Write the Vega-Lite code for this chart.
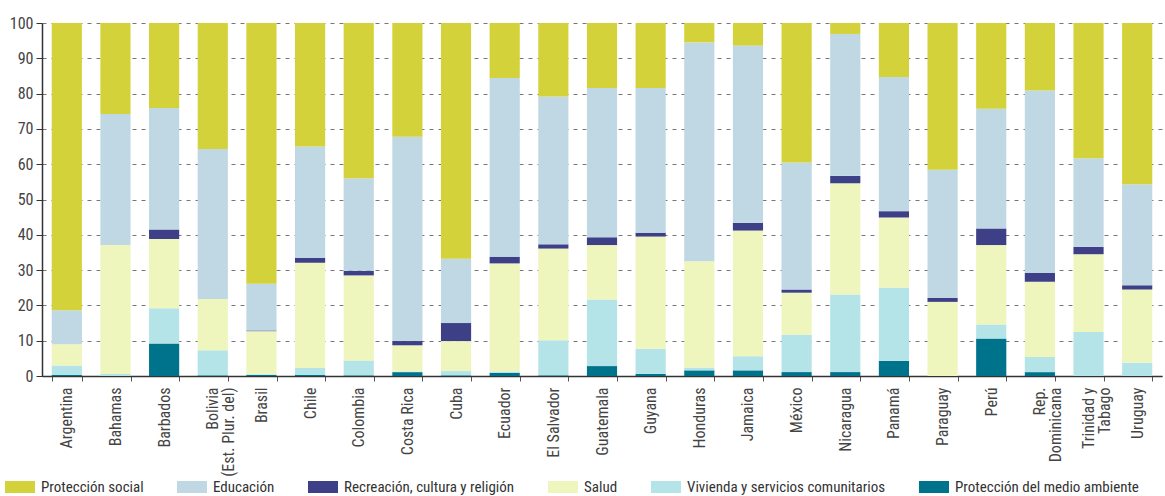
{
  "$schema": "https://vega.github.io/schema/vega-lite/v6.json",
  "width": 1120,
  "height": 353,
  "autosize": {"type": "none"},
  "padding": {"left": 42, "top": 23, "right": 3, "bottom": 120},
  "background": "white",
  "config": {
    "view": {"stroke": null},
    "font": "'Roboto Condensed', 'DejaVu Sans Condensed', 'Liberation Sans Narrow', Roboto, sans-serif",
    "axis": {"labelFont": "'Roboto Condensed', 'DejaVu Sans Condensed', 'Liberation Sans Narrow', Roboto, sans-serif", "labelColor": "#444", "labelFontSize": 16}
  },
  "data": {
    "values": [
      {"pais": "Argentina", "categoria": "Protección del medio ambiente", "valor": 0.3},
      {"pais": "Argentina", "categoria": "Vivienda y servicios comunitarios", "valor": 2.7},
      {"pais": "Argentina", "categoria": "Salud", "valor": 6.0},
      {"pais": "Argentina", "categoria": "Recreación, cultura y religión", "valor": 0},
      {"pais": "Argentina", "categoria": "Educación", "valor": 9.6},
      {"pais": "Argentina", "categoria": "Protección social", "valor": 81.4},
      {"pais": "Bahamas", "categoria": "Protección del medio ambiente", "valor": 0},
      {"pais": "Bahamas", "categoria": "Vivienda y servicios comunitarios", "valor": 0.6},
      {"pais": "Bahamas", "categoria": "Salud", "valor": 36.5},
      {"pais": "Bahamas", "categoria": "Recreación, cultura y religión", "valor": 0},
      {"pais": "Bahamas", "categoria": "Educación", "valor": 37.1},
      {"pais": "Bahamas", "categoria": "Protección social", "valor": 25.8},
      {"pais": "Barbados", "categoria": "Protección del medio ambiente", "valor": 9.2},
      {"pais": "Barbados", "categoria": "Vivienda y servicios comunitarios", "valor": 10.0},
      {"pais": "Barbados", "categoria": "Salud", "valor": 19.6},
      {"pais": "Barbados", "categoria": "Recreación, cultura y religión", "valor": 2.7},
      {"pais": "Barbados", "categoria": "Educación", "valor": 34.4},
      {"pais": "Barbados", "categoria": "Protección social", "valor": 24.1},
      {"pais": "Bolivia (Est. Plur. del)", "categoria": "Protección del medio ambiente", "valor": 0.2},
      {"pais": "Bolivia (Est. Plur. del)", "categoria": "Vivienda y servicios comunitarios", "valor": 7.1},
      {"pais": "Bolivia (Est. Plur. del)", "categoria": "Salud", "valor": 14.5},
      {"pais": "Bolivia (Est. Plur. del)", "categoria": "Recreación, cultura y religión", "valor": 0},
      {"pais": "Bolivia (Est. Plur. del)", "categoria": "Educación", "valor": 42.5},
      {"pais": "Bolivia (Est. Plur. del)", "categoria": "Protección social", "valor": 35.7},
      {"pais": "Brasil", "categoria": "Protección del medio ambiente", "valor": 0.3},
      {"pais": "Brasil", "categoria": "Vivienda y servicios comunitarios", "valor": 0.2},
      {"pais": "Brasil", "categoria": "Salud", "valor": 12.2},
      {"pais": "Brasil", "categoria": "Recreación, cultura y religión", "valor": 0.2},
      {"pais": "Brasil", "categoria": "Educación", "valor": 13.2},
      {"pais": "Brasil", "categoria": "Protección social", "valor": 73.9},
      {"pais": "Chile", "categoria": "Protección del medio ambiente", "valor": 0.3},
      {"pais": "Chile", "categoria": "Vivienda y servicios comunitarios", "valor": 2.0},
      {"pais": "Chile", "categoria": "Salud", "valor": 29.8},
      {"pais": "Chile", "categoria": "Recreación, cultura y religión", "valor": 1.4},
      {"pais": "Chile", "categoria": "Educación", "valor": 31.5},
      {"pais": "Chile", "categoria": "Protección social", "valor": 35.0},
      {"pais": "Colombia", "categoria": "Protección del medio ambiente", "valor": 0.2},
      {"pais": "Colombia", "categoria": "Vivienda y servicios comunitarios", "valor": 4.2},
      {"pais": "Colombia", "categoria": "Salud", "valor": 24.1},
      {"pais": "Colombia", "categoria": "Recreación, cultura y religión", "valor": 1.3},
      {"pais": "Colombia", "categoria": "Educación", "valor": 26.2},
      {"pais": "Colombia", "categoria": "Protección social", "valor": 44.0},
      {"pais": "Costa Rica", "categoria": "Protección del medio ambiente", "valor": 1.1},
      {"pais": "Costa Rica", "categoria": "Vivienda y servicios comunitarios", "valor": 0.2},
      {"pais": "Costa Rica", "categoria": "Salud", "valor": 7.4},
      {"pais": "Costa Rica", "categoria": "Recreación, cultura y religión", "valor": 1.2},
      {"pais": "Costa Rica", "categoria": "Educación", "valor": 57.9},
      {"pais": "Costa Rica", "categoria": "Protección social", "valor": 32.2},
      {"pais": "Cuba", "categoria": "Protección del medio ambiente", "valor": 0.2},
      {"pais": "Cuba", "categoria": "Vivienda y servicios comunitarios", "valor": 1.2},
      {"pais": "Cuba", "categoria": "Salud", "valor": 8.5},
      {"pais": "Cuba", "categoria": "Recreación, cultura y religión", "valor": 5.1},
      {"pais": "Cuba", "categoria": "Educación", "valor": 18.2},
      {"pais": "Cuba", "categoria": "Protección social", "valor": 66.8},
      {"pais": "Ecuador", "categoria": "Protección del medio ambiente", "valor": 0.9},
      {"pais": "Ecuador", "categoria": "Vivienda y servicios comunitarios", "valor": 0.4},
      {"pais": "Ecuador", "categoria": "Salud", "valor": 30.6},
      {"pais": "Ecuador", "categoria": "Recreación, cultura y religión", "valor": 1.9},
      {"pais": "Ecuador", "categoria": "Educación", "valor": 50.6},
      {"pais": "Ecuador", "categoria": "Protección social", "valor": 15.6},
      {"pais": "El Salvador", "categoria": "Protección del medio ambiente", "valor": 0.2},
      {"pais": "El Salvador", "categoria": "Vivienda y servicios comunitarios", "valor": 9.9},
      {"pais": "El Salvador", "categoria": "Salud", "valor": 26.0},
      {"pais": "El Salvador", "categoria": "Recreación, cultura y religión", "valor": 1.2},
      {"pais": "El Salvador", "categoria": "Educación", "valor": 41.9},
      {"pais": "El Salvador", "categoria": "Protección social", "valor": 20.8},
      {"pais": "Guatemala", "categoria": "Protección del medio ambiente", "valor": 2.8},
      {"pais": "Guatemala", "categoria": "Vivienda y servicios comunitarios", "valor": 18.9},
      {"pais": "Guatemala", "categoria": "Salud", "valor": 15.4},
      {"pais": "Guatemala", "categoria": "Recreación, cultura y religión", "valor": 2.2},
      {"pais": "Guatemala", "categoria": "Educación", "valor": 42.3},
      {"pais": "Guatemala", "categoria": "Protección social", "valor": 18.4},
      {"pais": "Guyana", "categoria": "Protección del medio ambiente", "valor": 0.6},
      {"pais": "Guyana", "categoria": "Vivienda y servicios comunitarios", "valor": 7.1},
      {"pais": "Guyana", "categoria": "Salud", "valor": 31.8},
      {"pais": "Guyana", "categoria": "Recreación, cultura y religión", "valor": 1.1},
      {"pais": "Guyana", "categoria": "Educación", "valor": 41.0},
      {"pais": "Guyana", "categoria": "Protección social", "valor": 18.4},
      {"pais": "Honduras", "categoria": "Protección del medio ambiente", "valor": 1.6},
      {"pais": "Honduras", "categoria": "Vivienda y servicios comunitarios", "valor": 0.8},
      {"pais": "Honduras", "categoria": "Salud", "valor": 30.1},
      {"pais": "Honduras", "categoria": "Recreación, cultura y religión", "valor": 0},
      {"pais": "Honduras", "categoria": "Educación", "valor": 62.0},
      {"pais": "Honduras", "categoria": "Protección social", "valor": 5.5},
      {"pais": "Jamaica", "categoria": "Protección del medio ambiente", "valor": 1.6},
      {"pais": "Jamaica", "categoria": "Vivienda y servicios comunitarios", "valor": 4.0},
      {"pais": "Jamaica", "categoria": "Salud", "valor": 35.6},
      {"pais": "Jamaica", "categoria": "Recreación, cultura y religión", "valor": 2.2},
      {"pais": "Jamaica", "categoria": "Educación", "valor": 50.2},
      {"pais": "Jamaica", "categoria": "Protección social", "valor": 6.4},
      {"pais": "México", "categoria": "Protección del medio ambiente", "valor": 1.1},
      {"pais": "México", "categoria": "Vivienda y servicios comunitarios", "valor": 10.6},
      {"pais": "México", "categoria": "Salud", "valor": 11.9},
      {"pais": "México", "categoria": "Recreación, cultura y religión", "valor": 0.9},
      {"pais": "México", "categoria": "Educación", "valor": 36.0},
      {"pais": "México", "categoria": "Protección social", "valor": 39.5},
      {"pais": "Nicaragua", "categoria": "Protección del medio ambiente", "valor": 1.1},
      {"pais": "Nicaragua", "categoria": "Vivienda y servicios comunitarios", "valor": 22.0},
      {"pais": "Nicaragua", "categoria": "Salud", "valor": 31.5},
      {"pais": "Nicaragua", "categoria": "Recreación, cultura y religión", "valor": 2.1},
      {"pais": "Nicaragua", "categoria": "Educación", "valor": 40.2},
      {"pais": "Nicaragua", "categoria": "Protección social", "valor": 3.1},
      {"pais": "Panamá", "categoria": "Protección del medio ambiente", "valor": 4.3},
      {"pais": "Panamá", "categoria": "Vivienda y servicios comunitarios", "valor": 20.7},
      {"pais": "Panamá", "categoria": "Salud", "valor": 19.9},
      {"pais": "Panamá", "categoria": "Recreación, cultura y religión", "valor": 1.8},
      {"pais": "Panamá", "categoria": "Educación", "valor": 38.0},
      {"pais": "Panamá", "categoria": "Protección social", "valor": 15.3},
      {"pais": "Paraguay", "categoria": "Protección del medio ambiente", "valor": 0},
      {"pais": "Paraguay", "categoria": "Vivienda y servicios comunitarios", "valor": 0},
      {"pais": "Paraguay", "categoria": "Salud", "valor": 21.0},
      {"pais": "Paraguay", "categoria": "Recreación, cultura y religión", "valor": 1.1},
      {"pais": "Paraguay", "categoria": "Educación", "valor": 36.3},
      {"pais": "Paraguay", "categoria": "Protección social", "valor": 41.6},
      {"pais": "Perú", "categoria": "Protección del medio ambiente", "valor": 10.6},
      {"pais": "Perú", "categoria": "Vivienda y servicios comunitarios", "valor": 4.0},
      {"pais": "Perú", "categoria": "Salud", "valor": 22.5},
      {"pais": "Perú", "categoria": "Recreación, cultura y religión", "valor": 4.7},
      {"pais": "Perú", "categoria": "Educación", "valor": 33.9},
      {"pais": "Perú", "categoria": "Protección social", "valor": 24.3},
      {"pais": "Rep. Dominicana", "categoria": "Protección del medio ambiente", "valor": 1.1},
      {"pais": "Rep. Dominicana", "categoria": "Vivienda y servicios comunitarios", "valor": 4.3},
      {"pais": "Rep. Dominicana", "categoria": "Salud", "valor": 21.3},
      {"pais": "Rep. Dominicana", "categoria": "Recreación, cultura y religión", "valor": 2.5},
      {"pais": "Rep. Dominicana", "categoria": "Educación", "valor": 51.7},
      {"pais": "Rep. Dominicana", "categoria": "Protección social", "valor": 19.1},
      {"pais": "Trinidad y Tabago", "categoria": "Protección del medio ambiente", "valor": 0},
      {"pais": "Trinidad y Tabago", "categoria": "Vivienda y servicios comunitarios", "valor": 12.5},
      {"pais": "Trinidad y Tabago", "categoria": "Salud", "valor": 22.0},
      {"pais": "Trinidad y Tabago", "categoria": "Recreación, cultura y religión", "valor": 2.1},
      {"pais": "Trinidad y Tabago", "categoria": "Educación", "valor": 25.1},
      {"pais": "Trinidad y Tabago", "categoria": "Protección social", "valor": 38.3},
      {"pais": "Uruguay", "categoria": "Protección del medio ambiente", "valor": 0},
      {"pais": "Uruguay", "categoria": "Vivienda y servicios comunitarios", "valor": 3.8},
      {"pais": "Uruguay", "categoria": "Salud", "valor": 20.7},
      {"pais": "Uruguay", "categoria": "Recreación, cultura y religión", "valor": 1.2},
      {"pais": "Uruguay", "categoria": "Educación", "valor": 28.6},
      {"pais": "Uruguay", "categoria": "Protección social", "valor": 45.7}
    ]
  },
  "transform": [
    {"calculate": "indexof(['Protección del medio ambiente','Vivienda y servicios comunitarios','Salud','Recreación, cultura y religión','Educación','Protección social'], datum.categoria)", "as": "orden"}
  ],
  "mark": {"type": "bar"},
  "encoding": {
    "x": {
      "field": "pais",
      "type": "nominal",
      "sort": null,
      "scale": {"paddingInner": 0.38, "paddingOuter": 0.2},
      "axis": {
        "title": null,
        "labelAngle": -90,
        "labelAlign": "right",
        "labelBaseline": "middle",
        "labelPadding": 6,
        "labelLineHeight": 16,
        "labelFontSize": 16,
        "labelExpr": "datum.value == 'Bolivia (Est. Plur. del)' ? ['Bolivia', '(Est. Plur. del)'] : datum.value == 'Rep. Dominicana' ? ['Rep.', 'Dominicana'] : datum.value == 'Trinidad y Tabago' ? ['Trinidad y', 'Tabago'] : datum.value",
        "tickBand": "extent",
        "tickColor": "#555",
        "tickSize": 5,
        "domainColor": "#333",
        "domainWidth": 1.5,
        "labelColor": "#444"
      }
    },
    "y": {
      "field": "valor",
      "type": "quantitative",
      "stack": "zero",
      "scale": {"domain": [0, 100], "nice": false},
      "axis": {
        "title": null,
        "values": [0, 10, 20, 30, 40, 50, 60, 70, 80, 90, 100],
        "grid": true,
        "gridDash": [4, 5],
        "gridColor": "#777",
        "gridWidth": 1,
        "tickColor": "#333",
        "tickSize": 6,
        "domainColor": "#333",
        "domainWidth": 1.5,
        "labelPadding": 3,
        "labelFontSize": 16
      }
    },
    "order": {"field": "orden", "type": "quantitative"},
    "color": {
      "field": "categoria",
      "type": "nominal",
      "scale": {
        "domain": ["Protección social", "Educación", "Recreación, cultura y religión", "Salud", "Vivienda y servicios comunitarios", "Protección del medio ambiente"],
        "range": ["#d4d23a", "#bfd8e3", "#3d3f87", "#eef5bd", "#b5e4e8", "#00738c"]
      },
      "legend": {
        "title": null,
        "orient": "none",
        "direction": "horizontal",
        "legendX": -37,
        "legendY": 449,
        "symbolType": "M-1,-0.4H1V0.4H-1Z",
        "symbolSize": 900,
        "symbolStrokeWidth": 0,
        "symbolOpacity": 1,
        "labelFont": "'Roboto Condensed', 'DejaVu Sans Condensed', 'Liberation Sans Narrow', Roboto, sans-serif",
        "labelFontSize": 15,
        "labelColor": "#333",
        "labelOffset": 6,
        "columnPadding": 33,
        "labelLimit": 400
      }
    }
  }
}
